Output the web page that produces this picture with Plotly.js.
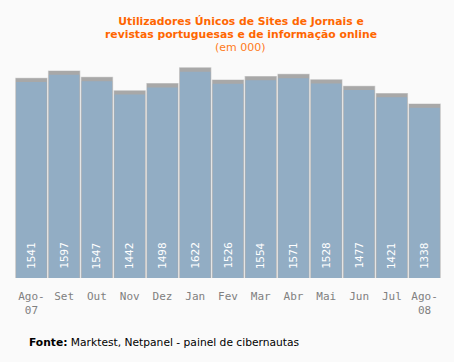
<!DOCTYPE html>
<html>
<head>
<meta charset="utf-8">
<script src="https://cdn.plot.ly/plotly-3.0.1.min.js"></script>
<style>html,body{margin:0;padding:0;background:#fafafa;}#chart{width:454px;height:362px;}</style>
</head>
<body>
<div id="chart"></div>
<script>
const categories = ['Ago-07','Set','Out','Nov','Dez','Jan','Fev','Mar','Abr','Mai','Jun','Jul','Ago-08'];
const tickLabels = ['Ago-<br>07','Set','Out','Nov','Dez','Jan','Fev','Mar','Abr','Mai','Jun','Jul','Ago-<br>08'];
const values = [1541,1597,1547,1442,1498,1622,1526,1554,1571,1528,1477,1421,1338];
const titleLine1 = 'Utilizadores Únicos de Sites de Jornais e';
const titleLine2 = 'revistas portuguesas e de informação online';
const titleUnit = '(em 000)';
const sourceBold = 'Fonte:';
const sourceText = 'Marktest, Netpanel - painel de cibernautas';

const barColor = '#92adc4';
const mono = '"DejaVu Sans Mono", monospace';
const sans = '"DejaVu Sans", Verdana, sans-serif';

const shadowLight = {
  type: 'bar', x: categories, y: values.map(v => v + 34), width: 0.99,
  marker: {color: '#d4d4d4'}, hoverinfo: 'skip', showlegend: false
};
const shadowDark = {
  type: 'bar', x: categories, y: values.map(v => v + 30), width: 0.95,
  marker: {color: '#a8a8a8'}, hoverinfo: 'skip', showlegend: false
};
const bars = {
  type: 'bar', x: categories, y: values, width: 0.93,
  marker: {color: barColor}, showlegend: false
};

const valueAnnotations = categories.map((c, i) => ({
  x: c, y: 0, xref: 'x', yref: 'y', text: String(values[i]), textangle: -90,
  showarrow: false, xanchor: 'center', yanchor: 'bottom', yshift: 7,
  font: {family: mono, size: 11, color: '#ffffff'}
}));

const layout = {
  width: 454, height: 362,
  paper_bgcolor: '#fafafa', plot_bgcolor: '#fafafa',
  margin: {l: 15, r: 13, t: 49, b: 84},
  barmode: 'overlay',
  title: {
    text: '<b>' + titleLine1 + '</b>',
    x: 0.5305, xref: 'paper', xanchor: 'center',
    y: 1 - 21.5/362, yref: 'container', yanchor: 'middle',
    font: {family: sans, size: 10.8, color: '#ff6600'}
  },
  xaxis: {
    type: 'category', tickvals: categories, ticktext: tickLabels,
    showgrid: false, zeroline: false, showline: false, ticks: '',
    ticklabelstandoff: 10,
    tickfont: {family: mono, size: 11, color: '#808080'}
  },
  yaxis: {range: [0, 1800], visible: false, showgrid: false, zeroline: false},
  annotations: valueAnnotations.concat([
    {xref: 'paper', yref: 'paper', x: 0.5305, y: 1.064, xanchor: 'center', yanchor: 'middle',
     text: '<b>' + titleLine2 + '</b>', showarrow: false,
     font: {family: sans, size: 10.8, color: '#ff6600'}},
    {xref: 'paper', yref: 'paper', x: 0.5305, y: 1.0087, xanchor: 'center', yanchor: 'middle',
     text: titleUnit, showarrow: false,
     font: {family: sans, size: 11, color: '#ff7a1a'}},
    {xref: 'paper', yref: 'paper', x: 0.028, y: -0.2838, xanchor: 'left', yanchor: 'middle',
     text: '<b>' + sourceBold + '</b> ' + sourceText, showarrow: false,
     font: {family: sans, size: 10.7, color: '#000000'}}
  ])
};

Plotly.newPlot('chart', [shadowLight, shadowDark, bars], layout, {displayModeBar: false, staticPlot: true});
</script>
</body>
</html>
